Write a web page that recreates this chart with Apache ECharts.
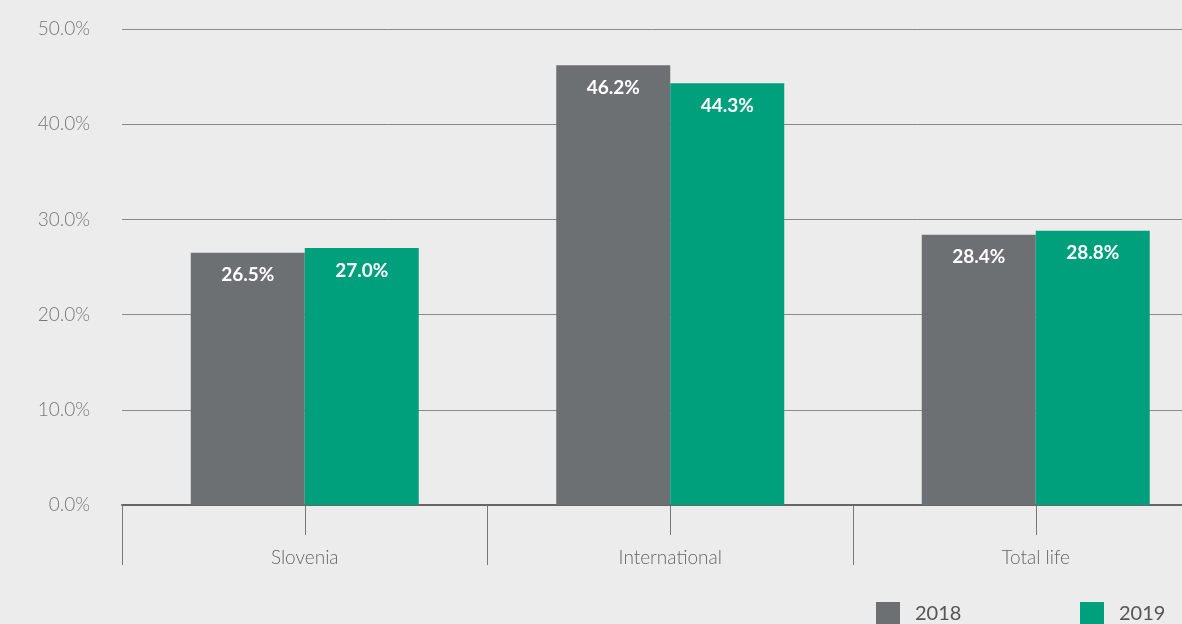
<!DOCTYPE html>
<html><head><meta charset="utf-8">
<script src="https://cdn.jsdelivr.net/npm/echarts@6/dist/echarts.min.js"></script>
<style>html,body{margin:0;padding:0;background:#ececec;}#c{width:1182px;height:624px;}</style>
</head><body><div id="c"></div>
<script>
const categories = ['Slovenia', 'International', 'Total life'];
const values2018 = [26.5, 46.2, 28.4];
const values2019 = [27.0, 44.3, 28.8];
const seriesNames = ['2018', '2019'];

const chart = echarts.init(document.getElementById('c'));
const labelStyle = {
  show: true, position: 'insideTop', distance: 13,
  color: '#ffffff', fontFamily: 'Lato', fontWeight: 'bold', fontSize: 19,
  formatter: p => p.value.toFixed(1) + '%'
};
chart.setOption({
  backgroundColor: '#ececec',
  animation: false,
  grid: { left: 122, right: -36.5, top: 29, bottom: 119, containLabel: false, outerBoundsMode: 'none' },
  legend: [
    { data: [seriesNames[0]], left: 876, top: 602, padding: 0, itemWidth: 24, itemHeight: 24, icon: 'rect',
      textStyle: { fontFamily: 'Lato', fontSize: 20, color: '#555', padding: [0, 0, 0, 10] } },
    { data: [seriesNames[1]], left: 1080, top: 602, padding: 0, itemWidth: 24, itemHeight: 24, icon: 'rect',
      textStyle: { fontFamily: 'Lato', fontSize: 20, color: '#555', padding: [0, 0, 0, 10] } }
  ],
  xAxis: [
    { type: 'category', data: categories, position: 'bottom',
      axisLine: { lineStyle: { color: '#666', width: 2 } },
      axisTick: { show: true, length: 60, lineStyle: { color: '#777', width: 1 } },
      axisLabel: { margin: 43, fontFamily: 'Lato', fontWeight: 300, fontSize: 19, color: '#666' } },
    { type: 'category', data: categories, position: 'bottom',
      axisLine: { show: false },
      axisTick: { show: true, alignWithLabel: true, length: 30, lineStyle: { color: '#777', width: 1 } },
      axisLabel: { show: false } }
  ],
  yAxis: {
    type: 'value', min: 0, max: 50, interval: 10,
    axisLine: { show: false }, axisTick: { show: false },
    splitLine: { lineStyle: { color: '#8a8a8a', width: 1 } },
    axisLabel: { margin: 32, fontFamily: 'Lato', fontWeight: 300, fontSize: 19, color: '#777',
      formatter: v => v.toFixed(1) + '%' }
  },
  series: [
    { name: seriesNames[0], type: 'bar', data: values2018, barWidth: 114, barGap: '0%',
      itemStyle: { color: '#6d7073' }, label: labelStyle },
    { name: seriesNames[1], type: 'bar', data: values2019, barWidth: 114, barGap: '0%',
      itemStyle: { color: '#00a07d' }, label: labelStyle }
  ]
});
</script></body></html>
